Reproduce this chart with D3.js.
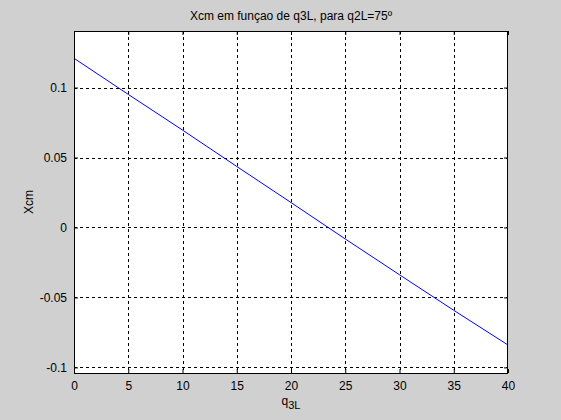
<!DOCTYPE html>
<html><head><meta charset="utf-8">
<script src="https://cdn.jsdelivr.net/npm/d3@7"></script>
<style>body{margin:0;background:#d0d0d0;}svg{display:block;}</style>
</head><body>
<svg id="c" width="561" height="420"></svg>
<script>
const q3L = [0, 5, 10, 15, 20, 25, 30, 35, 40];
const xcm = [0.1209, 0.0951, 0.0696, 0.0436, 0.0178, -0.0082, -0.0338, -0.0592, -0.0840];
const xTicks = [0, 5, 10, 15, 20, 25, 30, 35, 40];
const yTicks = [-0.1, -0.05, 0, 0.05, 0.1];
const title = "Xcm em funçao de q3L, para q2L=75º";

const svg = d3.select("#c");
const L = 74, R = 508, T = 31, B = 373;
const x = d3.scaleLinear().domain([0, 40]).range([L, R]);
const y = d3.scaleLinear().domain([-0.104, 0.1404]).range([B, T]);
const font = "Liberation Sans, Arial, sans-serif";

svg.append("rect").attr("width", 561).attr("height", 420).attr("fill", "#d0d0d0");
svg.append("rect").attr("x", L).attr("y", T).attr("width", R - L).attr("height", B - T).attr("fill", "#fff");

// grid
const g = svg.append("g");
g.selectAll(".gx").data(xTicks.slice(1, -1)).enter().append("line")
  .attr("x1", d => Math.round(x(d)) + 0.5).attr("x2", d => Math.round(x(d)) + 0.5)
  .attr("y1", T).attr("y2", B).attr("stroke", "#000").attr("stroke-dasharray", "3,3");
g.selectAll(".gy").data(yTicks).enter().append("line")
  .attr("y1", d => Math.round(y(d)) + 0.5).attr("y2", d => Math.round(y(d)) + 0.5)
  .attr("x1", L).attr("x2", R).attr("stroke", "#000").attr("stroke-dasharray", "3,3");

// line
svg.append("path").datum(q3L.map((v, i) => [v, xcm[i]]))
  .attr("d", d3.line().x(d => x(d[0])).y(d => y(d[1])))
  .attr("fill", "none").attr("stroke", "#0000ff").attr("stroke-width", 1);

// axes
const xa = svg.append("g").attr("transform", `translate(0,${B})`)
  .call(d3.axisBottom(x).tickValues(xTicks).tickSize(-4).tickPadding(8).tickFormat(d3.format("d")));
const ya = svg.append("g").attr("transform", `translate(${L},0)`)
  .call(d3.axisLeft(y).tickValues(yTicks).tickSize(-4).tickPadding(7).tickFormat(d => d === 0 ? "0" : String(d)));
const xt = svg.append("g").attr("transform", `translate(0,${T})`)
  .call(d3.axisTop(x).tickValues(xTicks).tickSize(-4).tickFormat(""));
const yr = svg.append("g").attr("transform", `translate(${R},0)`)
  .call(d3.axisRight(y).tickValues(yTicks).tickSize(-4).tickFormat(""));
[xa, ya, xt, yr].forEach(a => {
  a.select(".domain").remove();
  a.selectAll("line").attr("stroke", "#000");
  a.selectAll("text").attr("font-family", font).attr("font-size", 12).attr("fill", "#000");
});
svg.append("rect").attr("x", L + 0.5).attr("y", T + 0.5).attr("width", R - L - 1).attr("height", B - T)
  .attr("fill", "none").attr("stroke", "#000").attr("stroke-width", 1);

// title
svg.append("text").attr("x", (L + R) / 2).attr("y", 20).attr("text-anchor", "middle")
  .attr("font-family", font).attr("font-size", 12).text(title);

// y label
svg.append("text").attr("transform", `translate(33,${(T + B) / 2}) rotate(-90)`)
  .attr("text-anchor", "middle").attr("font-family", font).attr("font-size", 12).text("Xcm");

// x label
const xl = svg.append("text").attr("x", (L + R) / 2).attr("y", 405).attr("text-anchor", "middle")
  .attr("font-family", font).attr("font-size", 12);
xl.append("tspan").text("q");
xl.append("tspan").attr("dy", 4).attr("font-size", 11).text("3L");
</script>
</body></html>
